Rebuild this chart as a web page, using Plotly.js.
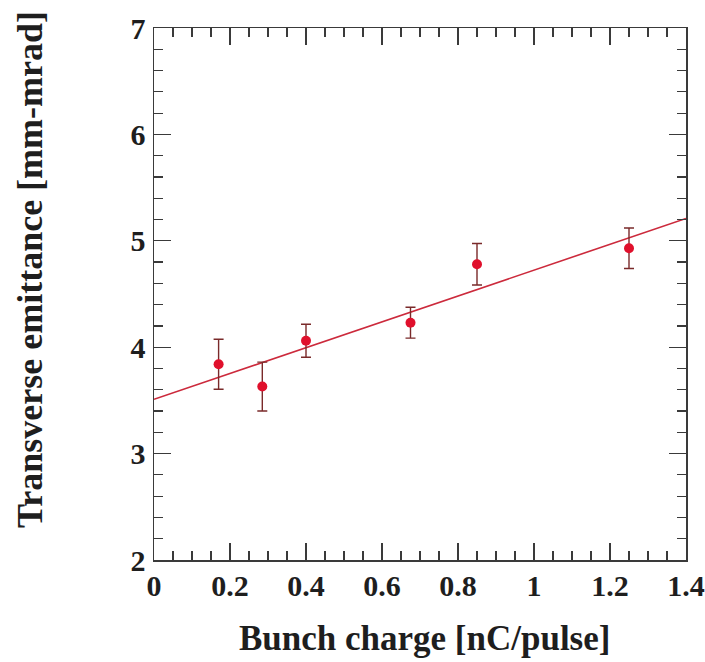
<!DOCTYPE html>
<html>
<head>
<meta charset="utf-8">
<script src="https://cdn.plot.ly/plotly-3.0.1.min.js"></script>
<style>html,body{margin:0;padding:0;background:#fff;}#chart{width:705px;height:662px;}</style>
</head>
<body>
<div id="chart"></div>
<script>
// Data
const bunchCharge = [0.17, 0.285, 0.40, 0.675, 0.85, 1.25];
const emittance   = [3.84, 3.63, 4.06, 4.23, 4.78, 4.93];
const emitError   = [0.235, 0.23, 0.155, 0.145, 0.195, 0.19];
// Linear fit line endpoints
const fitX = [0, 1.4];
const fitY = [3.51, 5.21];
const xTickVals = [0, 0.2, 0.4, 0.6, 0.8, 1, 1.2, 1.4];
const xTickText = ['0', '0.2', '0.4', '0.6', '0.8', '1', '1.2', '1.4'];
const yTickVals = [2, 3, 4, 5, 6, 7];
const xTitle = 'Bunch charge [nC/pulse]';
const yTitle = 'Transverse emittance [mm-mrad]';

const serif = 'Liberation Serif, Times New Roman, serif';
const frameColor = '#3a3a3a';
const textColor = '#1e1e1e';

const traces = [
  {
    x: fitX, y: fitY, type: 'scatter', mode: 'lines',
    line: {color: '#cc2a3c', width: 1.6},
    hoverinfo: 'skip', showlegend: false
  },
  {
    x: bunchCharge, y: emittance, type: 'scatter', mode: 'markers',
    marker: {color: '#e0102c', size: 10},
    error_y: {type: 'data', array: emitError, visible: true,
              color: '#7a2a2a', thickness: 1.4, width: 5},
    showlegend: false
  }
];

const layout = {
  width: 705, height: 662,
  margin: {l: 154, r: 19, t: 28, b: 102},
  paper_bgcolor: '#ffffff', plot_bgcolor: '#ffffff',
  font: {family: serif, color: textColor},
  xaxis: {
    range: [0, 1.4], showgrid: false, zeroline: false,
    showline: true, linecolor: frameColor, linewidth: 1.5, mirror: 'ticks',
    ticks: 'inside', ticklen: 17, tickwidth: 1.3, tickcolor: frameColor,
    tickmode: 'array', tickvals: xTickVals, ticktext: xTickText,
    tickfont: {family: serif, size: 30, color: textColor, weight: 'bold'},
    ticklabelstandoff: -2,
    minor: {dtick: 0.05, ticks: 'inside', ticklen: 9, tickwidth: 1.2, tickcolor: frameColor, showgrid: false}
  },
  yaxis: {
    range: [2, 7], showgrid: false, zeroline: false,
    showline: true, linecolor: frameColor, linewidth: 1.5, mirror: 'ticks',
    ticks: 'inside', ticklen: 17, tickwidth: 1.3, tickcolor: frameColor,
    tickmode: 'array', tickvals: yTickVals,
    tickfont: {family: serif, size: 30, color: textColor, weight: 'bold'},
    ticklabelstandoff: 1,
    minor: {dtick: 0.2, ticks: 'inside', ticklen: 9, tickwidth: 1.2, tickcolor: frameColor, showgrid: false}
  },
  annotations: [
    {text: xTitle, xref: 'paper', yref: 'paper', x: 0.508, y: -0.148,
     xanchor: 'center', yanchor: 'middle', showarrow: false,
     font: {family: serif, size: 35, color: textColor, weight: 'bold'}},
    {text: yTitle, xref: 'paper', yref: 'paper', x: -0.233, y: 0.545,
     xanchor: 'center', yanchor: 'middle', showarrow: false, textangle: -90,
     font: {family: serif, size: 36, color: textColor, weight: 'bold'}}
  ]
};

Plotly.newPlot('chart', traces, layout, {displayModeBar: false, staticPlot: true});
</script>
</body>
</html>
